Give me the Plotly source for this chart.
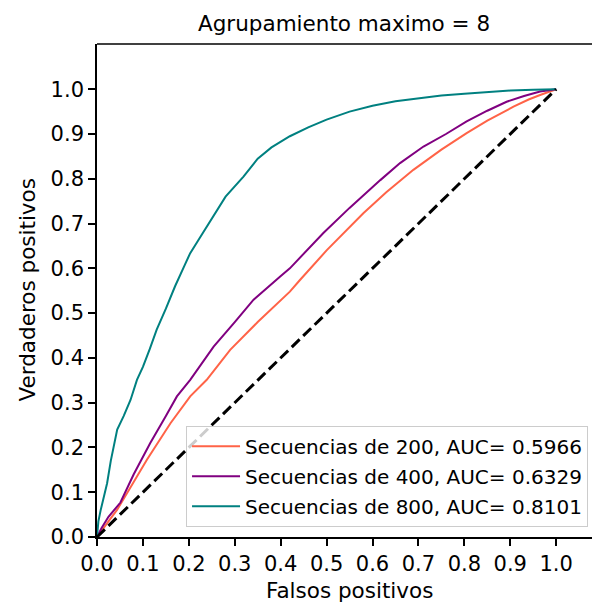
import plotly.graph_objects as go

# ROC curves (false positive rate, true positive rate) per sequence length
fpr_200 = [0, 0.01, 0.025, 0.044, 0.075, 0.109, 0.16, 0.203, 0.239, 0.29, 0.35, 0.42,
           0.442, 0.5, 0.58, 0.63, 0.689, 0.75, 0.805, 0.85, 0.907, 0.94, 0.965, 1.0]
tpr_200 = [0, 0.015, 0.035, 0.061, 0.115, 0.173, 0.254, 0.314, 0.351, 0.418, 0.48, 0.548,
           0.574, 0.64, 0.723, 0.77, 0.82, 0.865, 0.902, 0.93, 0.961, 0.977, 0.987, 1.0]

fpr_400 = [0, 0.01, 0.025, 0.051, 0.08, 0.116, 0.15, 0.174, 0.203, 0.254, 0.3, 0.341, 0.399,
           0.42, 0.493, 0.55, 0.617, 0.66, 0.711, 0.76, 0.805, 0.85, 0.892, 0.93, 0.965, 1.0]
tpr_400 = [0, 0.02, 0.045, 0.077, 0.14, 0.21, 0.27, 0.314, 0.351, 0.425, 0.48, 0.53, 0.582,
           0.60, 0.679, 0.735, 0.797, 0.835, 0.872, 0.90, 0.928, 0.952, 0.972, 0.985, 0.995, 1.0]

fpr_800 = [0, 0.003, 0.008, 0.014, 0.022, 0.03, 0.044, 0.058, 0.073, 0.087, 0.1, 0.115, 0.13,
           0.15, 0.17, 0.19, 0.203, 0.225, 0.25, 0.28, 0.319, 0.35, 0.38, 0.42, 0.46, 0.5,
           0.55, 0.6, 0.65, 0.7, 0.75, 0.8, 0.85, 0.9, 0.95, 1.0]
tpr_800 = [0, 0.035, 0.06, 0.083, 0.12, 0.17, 0.24, 0.27, 0.306, 0.351, 0.38, 0.42, 0.463,
           0.51, 0.56, 0.605, 0.634, 0.67, 0.71, 0.76, 0.805, 0.845, 0.87, 0.895, 0.915, 0.932,
           0.95, 0.963, 0.973, 0.98, 0.986, 0.99, 0.994, 0.997, 0.999, 1.0]

labels = ["Secuencias de 200, AUC= 0.5966",
          "Secuencias de 400, AUC= 0.6329",
          "Secuencias de 800, AUC= 0.8101"]
colors = ["#FF6347", "#800080", "#008080"]

chance_x = [0, 1]
chance_y = [0, 1]

tick_vals = [i / 10 for i in range(11)]

FONT = "DejaVu Sans"
FS_LEGEND = 20
FS_TICK = 21
FS_TITLE = 21.5

fig = go.Figure()

for i, (fx, ty) in enumerate([(fpr_200, tpr_200), (fpr_400, tpr_400), (fpr_800, tpr_800)]):
    fig.add_trace(go.Scatter(
        x=fx, y=ty, mode="lines", name=labels[i],
        line=dict(color=colors[i], width=2),
        legendgroup=f"g{i}",
    ))

fig.add_trace(go.Scatter(
    x=chance_x, y=chance_y, mode="lines", showlegend=False,
    line=dict(color="black", width=3, dash="11px,5px"),
))

axis_style = dict(
    tickvals=tick_vals, tickformat=".1f",
    showgrid=False, zeroline=False,
    showline=True, linecolor="black", linewidth=1.6,
    ticks="outside", ticklen=7, tickwidth=1.6, tickcolor="black",
    tickfont=dict(family=FONT, size=FS_TICK),
)

fig.update_layout(
    width=592, height=606,
    margin=dict(l=97, r=0, t=44, b=69),
    paper_bgcolor="white", plot_bgcolor="white",
    font=dict(family=FONT, size=FS_LEGEND, color="black"),
    showlegend=True,
    legend=dict(
        x=0.992, y=0.021, xanchor="right", yanchor="bottom",
        bgcolor="rgba(255,255,255,0.8)", bordercolor="#cccccc", borderwidth=1,
        font=dict(family=FONT, size=FS_LEGEND, color="black"),
        tracegroupgap=1, itemwidth=48,
    ),
    xaxis=dict(range=[0, 1.078], **axis_style),
    yaxis=dict(range=[0, 1.101], **axis_style),
    shapes=[dict(type="line", xref="paper", yref="paper", x0=0, x1=1, y0=1, y1=1,
                 line=dict(color="black", width=1.6))],
    annotations=[
        dict(text="Agrupamiento maximo = 8", xref="paper", yref="paper",
             x=0.499, y=1, yshift=6, xanchor="center", yanchor="bottom",
             showarrow=False, font=dict(family=FONT, size=FS_TITLE)),
        dict(text="Falsos positivos", xref="paper", yref="paper",
             x=0.511, y=0, yshift=-39, xanchor="center", yanchor="top",
             showarrow=False, font=dict(family=FONT, size=FS_TITLE)),
        dict(text="Verdaderos positivos", xref="paper", yref="paper",
             x=0, xshift=-70, y=0.5, xanchor="center", yanchor="middle",
             textangle=-90, showarrow=False, font=dict(family=FONT, size=FS_TITLE)),
    ],
)

fig.write_html("out.html")
